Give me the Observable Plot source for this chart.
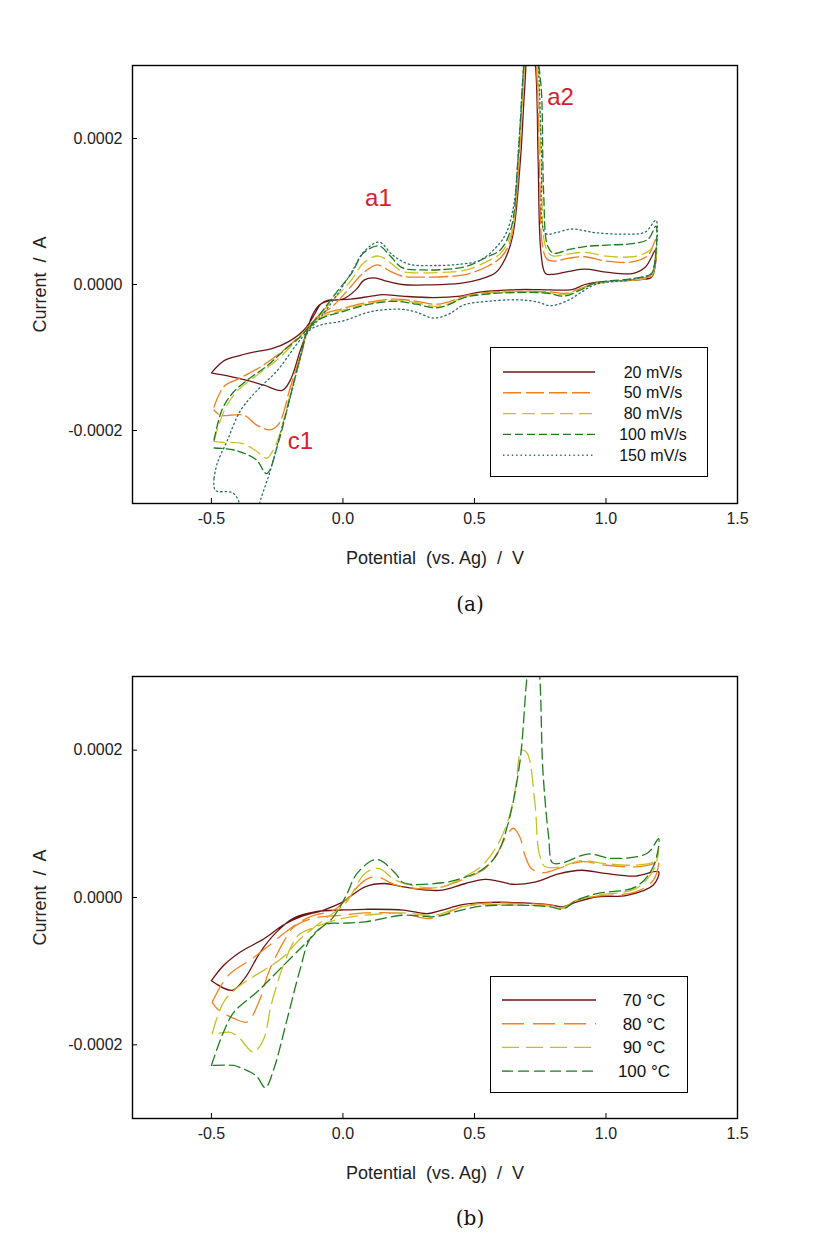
<!DOCTYPE html>
<html><head><meta charset="utf-8">
<script src="https://cdn.jsdelivr.net/npm/d3@7"></script>
<script src="https://cdn.jsdelivr.net/npm/@observablehq/plot@0.6"></script>
<style>
body{margin:0;background:#fff;width:832px;height:1256px;position:relative;font-family:"Liberation Sans",Arial,sans-serif;overflow:hidden;}
.panel{position:absolute;left:0;width:832px;}
.legend{position:absolute;border:1.4px solid #000;background:#fff;box-sizing:border-box;}
.caption{position:absolute;left:420px;width:100px;text-align:center;font-family:"DejaVu Serif","Liberation Serif",serif;font-size:20px;color:#111;line-height:24px;}
</style></head>
<body>
<div id="pa" class="panel" style="top:0"></div>
<div id="la" class="legend" style="left:490px;top:347px;width:218px;height:130px"></div>
<div class="caption" style="top:592px">(a)</div>
<div id="pb" class="panel" style="top:620px"></div>
<div id="lb" class="legend" style="left:490px;top:976px;width:198px;height:117px"></div>
<div class="caption" style="top:1206px">(b)</div>
<script>
// axis settings
const xDomain = [-0.8, 1.5];
const yDomain = [-0.0003, 0.0003];
const xTicks = [-0.5, 0.0, 0.5, 1.0, 1.5];
const yTicks = [-0.0002, 0.0, 0.0002];

// Panel (a): [potential V, current µA], forward sweep then reverse sweep
const a20 = [[-0.50,-121],[-0.45,-104],[-0.39,-97],[-0.33,-92],[-0.27,-88],[-0.21,-79],[-0.15,-63],[-0.12,-48],[-0.105,-39],[-0.085,-27],[-0.055,-21.5],[0.00,-20],[0.05,-7],[0.08,6],[0.12,9],[0.165,4.6],[0.225,0],[0.33,-0.5],[0.445,1.4],[0.52,7],[0.58,16],[0.615,34],[0.645,66],[0.675,172],[0.69,263],[0.71,360],[0.733,295],[0.742,172],[0.753,43],[0.77,15],[0.80,14],[0.86,18],[0.92,21],[1.00,17],[1.10,15],[1.15,24],[1.19,48],
  [1.18,14],[1.17,9],[1.10,6],[0.96,3],[0.92,0],[0.87,-7],[0.75,-7],[0.667,-7],[0.52,-10.5],[0.446,-16],[0.343,-18],[0.225,-16],[0.152,-14],[0.108,-16],[0.03,-20],[-0.05,-22],[-0.09,-28],[-0.12,-45],[-0.135,-63],[-0.162,-90],[-0.20,-131],[-0.231,-145],[-0.30,-138],[-0.364,-131.5],[-0.43,-126],[-0.497,-121.5]];
const a50 = [[-0.49,-168],[-0.453,-140],[-0.396,-129],[-0.314,-113],[-0.225,-90],[-0.149,-65],[-0.10,-45],[-0.04,-30],[0.02,-7],[0.078,16],[0.13,27],[0.18,18],[0.225,11.5],[0.30,10],[0.40,11],[0.47,14],[0.55,25],[0.60,37],[0.635,58],[0.66,120],[0.685,270],[0.71,380],[0.735,300],[0.748,150],[0.758,55],[0.775,35],[0.80,32],[0.86,36],[0.92,38],[1.00,32],[1.10,31],[1.16,40],[1.19,62],
  [1.18,18],[1.17,12],[1.10,6],[0.96,2],[0.90,-6],[0.85,-12],[0.78,-10],[0.66,-9],[0.55,-11],[0.46,-16],[0.40,-24],[0.35,-27],[0.28,-23],[0.20,-20],[0.10,-24],[0.00,-33],[-0.08,-42],[-0.13,-60],[-0.16,-95],[-0.20,-141],[-0.244,-191],[-0.276,-199],[-0.326,-193],[-0.377,-179],[-0.466,-179],[-0.49,-172]];
const a80 = [[-0.49,-215],[-0.47,-190],[-0.44,-165],[-0.40,-145],[-0.33,-125],[-0.25,-103],[-0.18,-78],[-0.13,-58],[-0.09,-42],[-0.04,-22],[0.03,5],[0.08,30],[0.135,39],[0.18,30],[0.225,18],[0.30,16],[0.40,17],[0.47,20],[0.55,32],[0.60,43],[0.64,70],[0.665,160],[0.69,300],[0.71,400],[0.74,300],[0.755,150],[0.765,60],[0.78,44],[0.80,39],[0.86,42],[0.92,44],[1.00,39],[1.10,38],[1.16,45],[1.19,55],
  [1.18,16],[1.17,10],[1.10,6],[0.96,1],[0.90,-7],[0.84,-14],[0.78,-11],[0.66,-10],[0.55,-12],[0.46,-17],[0.40,-27],[0.35,-30],[0.28,-25],[0.20,-21.5],[0.10,-26],[0.00,-35],[-0.08,-45],[-0.13,-62],[-0.16,-100],[-0.20,-150],[-0.24,-205],[-0.27,-230],[-0.29,-238],[-0.33,-228],[-0.38,-218],[-0.47,-216],[-0.49,-215]];
const a100 = [[-0.49,-213],[-0.46,-172],[-0.42,-149],[-0.36,-130],[-0.29,-112],[-0.22,-89],[-0.16,-71],[-0.13,-58],[-0.084,-39],[-0.025,-11],[0.034,16],[0.078,43],[0.137,53],[0.18,39],[0.225,23],[0.30,20],[0.40,21],[0.47,25],[0.55,38],[0.60,48],[0.64,78],[0.665,170],[0.69,310],[0.72,400],[0.745,300],[0.755,263],[0.763,126],[0.778,53],[0.80,43],[0.86,48],[0.92,52],[1.00,54],[1.10,56],[1.16,62],[1.19,80],
  [1.18,20],[1.17,14],[1.10,8],[0.96,2],[0.90,-8],[0.84,-16],[0.78,-12],[0.66,-11],[0.55,-13],[0.46,-18],[0.40,-28],[0.35,-32],[0.28,-27],[0.20,-23],[0.10,-27],[0.00,-37],[-0.08,-46],[-0.13,-60],[-0.158,-94],[-0.20,-153],[-0.246,-217],[-0.29,-259],[-0.33,-240],[-0.41,-227],[-0.49,-224]];
const a150 = [[-0.49,-265],[-0.478,-245],[-0.44,-214],[-0.39,-173],[-0.326,-145],[-0.25,-118],[-0.174,-81],[-0.13,-62],[-0.09,-47],[-0.03,-18],[0.03,15],[0.08,45],[0.137,58],[0.19,40],[0.25,28],[0.35,26],[0.45,28],[0.52,33],[0.58,50],[0.62,70],[0.65,110],[0.67,200],[0.69,320],[0.71,420],[0.74,320],[0.755,180],[0.77,70],[0.81,71],[0.87,76],[0.96,71],[1.08,69],[1.15,72],[1.19,88],
  [1.18,20],[1.17,14],[1.10,7],[0.96,0],[0.90,-12],[0.86,-21],[0.79,-29],[0.74,-24],[0.67,-21],[0.55,-23],[0.46,-28],[0.40,-41],[0.343,-46],[0.28,-38],[0.225,-34],[0.108,-37],[0.00,-50],[-0.08,-55],[-0.13,-64],[-0.162,-100],[-0.20,-155],[-0.238,-204],[-0.276,-255],[-0.314,-296],[-0.34,-330],[-0.37,-320],[-0.416,-286],[-0.485,-282],[-0.49,-265]];

// Panel (b)
const b70 = [[-0.50,-113],[-0.453,-92],[-0.39,-74],[-0.30,-56],[-0.225,-37],[-0.16,-26],[-0.073,-17],[0.0,-6],[0.018,-1.4],[0.084,14.5],[0.157,19],[0.23,14.5],[0.32,10],[0.378,10],[0.466,19],[0.54,24.5],[0.584,22.7],[0.643,18],[0.73,21],[0.82,32],[0.907,37],[0.996,32.7],[1.113,29],[1.20,35],
  [1.18,17],[1.08,3],[0.966,1],[0.89,-6],[0.834,-12.7],[0.79,-10],[0.672,-7],[0.525,-7],[0.45,-10],[0.378,-17],[0.32,-22],[0.23,-17],[0.084,-16],[-0.004,-17],[-0.098,-19],[-0.187,-28],[-0.25,-46],[-0.314,-74],[-0.37,-108],[-0.421,-126],[-0.50,-113]];
const b80 = [[-0.497,-142],[-0.459,-117],[-0.428,-103],[-0.345,-83],[-0.27,-62],[-0.20,-42],[-0.124,-26],[-0.034,-17],[0.01,-4],[0.084,23.6],[0.13,28],[0.20,17],[0.29,12],[0.378,14.5],[0.466,26],[0.54,39.5],[0.59,62],[0.62,82.5],[0.647,94],[0.672,82.5],[0.694,55],[0.716,39.5],[0.76,33.6],[0.82,39.5],[0.907,48.5],[0.996,44],[1.113,41.7],[1.18,46],[1.20,52],
  [1.18,23.6],[1.113,7.7],[0.966,1.8],[0.89,-3.6],[0.834,-13.6],[0.79,-10.4],[0.672,-8],[0.525,-8],[0.45,-12.7],[0.378,-24],[0.32,-28.6],[0.23,-21.8],[0.084,-21],[-0.004,-24],[-0.111,-28],[-0.187,-40],[-0.225,-60],[-0.282,-101],[-0.32,-142],[-0.364,-169],[-0.409,-165],[-0.478,-151],[-0.497,-142]];
const b90 = [[-0.497,-185],[-0.48,-165],[-0.45,-140],[-0.40,-122],[-0.33,-105],[-0.27,-92],[-0.225,-80],[-0.162,-56],[-0.10,-38],[-0.048,-24],[0.01,-8],[0.084,32.7],[0.135,39.5],[0.20,23.6],[0.29,14.5],[0.378,14.5],[0.45,26],[0.525,42],[0.584,69],[0.628,105],[0.657,150.6],[0.679,200],[0.70,196],[0.73,128],[0.746,60],[0.768,42],[0.82,41],[0.907,50],[0.996,46],[1.113,44],[1.18,48.5],[1.20,64],
  [1.18,37],[1.113,12],[0.966,3],[0.89,-3.6],[0.834,-15],[0.79,-12],[0.672,-10.4],[0.525,-9.5],[0.45,-12.7],[0.348,-24],[0.23,-21],[0.084,-24],[-0.004,-28.6],[-0.105,-40],[-0.162,-49],[-0.187,-60],[-0.231,-96.5],[-0.263,-133],[-0.276,-151],[-0.301,-192],[-0.339,-210],[-0.37,-201],[-0.39,-192],[-0.428,-183],[-0.485,-185],[-0.497,-185]];
const b100 = [[-0.50,-228],[-0.459,-187],[-0.415,-156],[-0.326,-128],[-0.238,-96.5],[-0.136,-60],[-0.086,-42],[-0.04,-28],[0.01,1],[0.054,32.7],[0.128,51.7],[0.20,32.7],[0.23,20],[0.378,20],[0.45,26],[0.525,37],[0.584,57.6],[0.628,100.7],[0.672,182],[0.70,300],[0.723,360],[0.746,309],[0.76,173],[0.782,82.5],[0.797,47],[0.834,47],[0.93,59],[1.025,53],[1.157,60],[1.20,80],
  [1.18,42],[1.113,14.5],[0.966,5.4],[0.89,-3.6],[0.834,-16],[0.79,-12.7],[0.672,-10.4],[0.525,-11.8],[0.45,-17],[0.348,-26],[0.23,-24],[0.084,-33],[-0.004,-35],[-0.06,-36],[-0.124,-55.6],[-0.162,-96.5],[-0.212,-165],[-0.263,-233],[-0.295,-258],[-0.33,-242],[-0.39,-231],[-0.415,-228],[-0.50,-228]];

const labelsA = ["20 mV/s", "50 mV/s", "80 mV/s", "100 mV/s", "150 mV/s"];
const labelsB = ["70 °C", "80 °C", "90 °C", "100 °C"];
const annotA = [{label: "a1", v: 0.135, i: 118}, {label: "a2", v: 0.827, i: 257}, {label: "c1", v: -0.162, i: -215}];

const seriesA = [
  {label: labelsA[0], pts: a20, color: "#6e1616", dash: null},
  {label: labelsA[1], pts: a50, color: "#ee7d1e", dash: "18,5"},
  {label: labelsA[2], pts: a80, color: "#c9c224", dash: "13,6"},
  {label: labelsA[3], pts: a100, color: "#1f7a23", dash: "8,4"},
  {label: labelsA[4], pts: a150, color: "#2a6f6a", dash: "1.4,3"}
];
const seriesB = [
  {label: labelsB[0], pts: b70, color: "#6e1212", dash: null},
  {label: labelsB[1], pts: b80, color: "#f5821f", dash: "22,9"},
  {label: labelsB[2], pts: b90, color: "#c5c02a", dash: "17,7"},
  {label: labelsB[3], pts: b100, color: "#1e7d1e", dash: "11,5"}
];

const FONT = '"Liberation Sans", Arial, sans-serif';

function makePanel(series, o) {
  const W = 832, ML = 132, MR = 95;
  const frameW = W - ML - MR, frameH = o.height - o.mt - o.mb;
  const marks = [
    ...series.map(s => Plot.line(s.pts, {
      x: d => d[0], y: d => d[1] * 1e-6,
      stroke: s.color, strokeWidth: 1.3, strokeDasharray: s.dash,
      curve: "catmull-rom", clip: true
    })),
    Plot.frame({stroke: "#000", strokeWidth: 1.4}),
    Plot.tickX(xTicks, {x: d => d, stroke: "#000", insetTop: frameH - 5}),
    Plot.tickY(yTicks, {y: d => d, stroke: "#000", insetRight: frameW - 5}),
    Plot.axisX(xTicks, {tickSize: 0, tickPadding: 9, tickFormat: d => d.toFixed(1), label: null, fontSize: 16}),
    Plot.axisY(yTicks, {tickSize: 0, tickPadding: 10, tickFormat: d => d.toFixed(4), label: null, fontSize: 16}),
    Plot.text(["Current  /  A"], {text: d => d, frameAnchor: "left", textAnchor: "middle", lineAnchor: "middle", dx: -92, rotate: -90, fontSize: 18, fill: "#222"}),
    Plot.text(["Potential  (vs. Ag)  /  V"], {text: d => d, frameAnchor: "bottom", textAnchor: "middle", lineAnchor: "middle", dy: 55, fontSize: 18, fill: "#222"})
  ];
  if (o.annot) marks.push(Plot.text(o.annot, {x: "v", y: d => d.i * 1e-6, text: "label", fill: "#d42030", fontSize: 24}));
  return Plot.plot({
    width: W, height: o.height,
    marginLeft: ML, marginRight: MR, marginTop: o.mt, marginBottom: o.mb,
    style: {fontFamily: FONT, fontSize: "16px", color: "#222", background: "#fff", overflow: "visible"},
    x: {domain: xDomain, label: null},
    y: {domain: yDomain, label: null},
    marks
  });
}

function makeLegend(el, series, o) {
  const svg = d3.select(el).append("svg").attr("width", o.w).attr("height", o.h).style("display", "block");
  series.forEach((s, k) => {
    const y = o.y0 + k * o.dy;
    svg.append("line").attr("x1", o.x1).attr("x2", o.x2).attr("y1", y).attr("y2", y)
      .attr("stroke", s.color).attr("stroke-width", 1.4).attr("stroke-dasharray", s.dash);
    svg.append("text").attr("x", o.tx).attr("y", y).attr("dy", "0.35em").attr("text-anchor", "middle")
      .attr("font-family", FONT).attr("font-size", o.fs).attr("fill", "#111").text(s.label);
  });
}

document.getElementById("pa").append(makePanel(seriesA, {height: 580, mt: 65, mb: 77, annot: annotA}));
document.getElementById("pb").append(makePanel(seriesB, {height: 580, mt: 56, mb: 82}));
makeLegend(document.getElementById("la"), seriesA, {w: 216, h: 128, x1: 12, x2: 104, tx: 162, y0: 24, dy: 20.8, fs: 16});
makeLegend(document.getElementById("lb"), seriesB, {w: 196, h: 115, x1: 11, x2: 105, tx: 153, y0: 23, dy: 23.7, fs: 17});
</script>
</body></html>
